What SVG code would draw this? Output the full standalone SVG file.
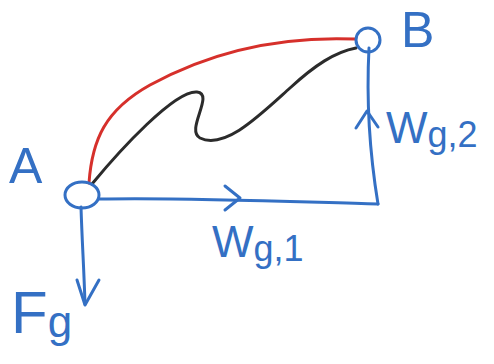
<svg xmlns="http://www.w3.org/2000/svg" width="494" height="364" viewBox="0 0 494 364">
<style>
.b{fill:none;stroke:#3470c4;stroke-width:3;stroke-linecap:round;stroke-linejoin:round}
.red{fill:none;stroke:#d6302b;stroke-width:3;stroke-linecap:round}
.blk{fill:none;stroke:#2b2b2b;stroke-width:3;stroke-linecap:round}
.t{fill:#3470c4;font-family:"Liberation Sans",Arial,sans-serif}
</style>
<rect width="494" height="364" fill="#ffffff"/>
<g id="connectors">
<path class="red" d="M89,183 C92,140 105,110 150,85 C210,52 280,36 355,39"/>
<path class="blk" d="M92,184 C120,150 175,90 197,92 C215,94 185,130 200,138 C225,150 260,115 290,88 C315,65 335,52 356,48"/>
<g id="Wg1">
<path class="b" d="M99,199 C180,197 300,202 378,204"/>
<path class="b" d="M225,186 L240,198 L225,210"/>
</g>
<g id="Wg2">
<path class="b" d="M378,204 Q365,125 369,48"/>
<path class="b" d="M356,128 L367,111 L378,127"/>
</g>
<g id="Fg">
<path class="b" d="M81,207 C82,240 84,270 85,304"/>
<path class="b" d="M77,280 L85,305 L99,280"/>
</g>
</g>
<g id="node-A">
<ellipse class="b" cx="82" cy="195" rx="17" ry="13"/>
<text class="t" x="9" y="183" font-size="50">A</text>
</g>
<g id="node-B">
<circle class="b" cx="368" cy="40" r="12"/>
<text class="t" x="401" y="47" font-size="50">B</text>
</g>
<g id="labels">
<text class="t" x="212" y="257" font-size="44">W<tspan font-size="36" dy="4">g,1</tspan></text>
<text class="t" x="386" y="143" font-size="44">W<tspan font-size="36" dy="4">g,2</tspan></text>
<text class="t" x="11" y="333" font-size="60">F<tspan font-size="44" dy="4">g</tspan></text>
</g>
</svg>
